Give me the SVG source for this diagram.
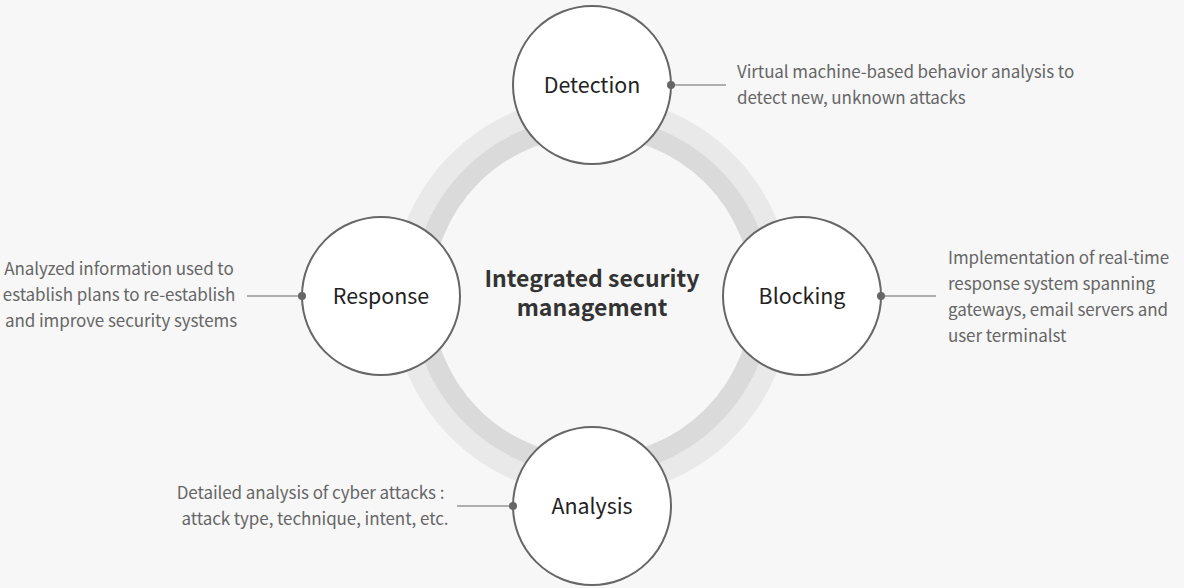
<svg xmlns="http://www.w3.org/2000/svg" width="1184" height="588" viewBox="0 0 1184 588">
<style>
.node circle{fill:#ffffff;stroke:#666666;stroke-width:2}
.label{font-family:"Noto Sans CJK KR","Noto Sans",sans-serif;font-size:21.4px;fill:#222222;text-anchor:middle}
.desc{font-family:"Noto Sans CJK KR","Noto Sans",sans-serif;font-size:17px;letter-spacing:-0.08px;fill:#666666}
.title{font-family:"Noto Sans CJK KR","Noto Sans",sans-serif;font-size:23px;font-weight:bold;fill:#333333;text-anchor:middle}
.conn line{stroke:#666666;stroke-width:1}
.conn circle{fill:#666666}
</style>
<rect width="1184" height="588" fill="#f7f7f7"/>
<g id="ring">
<circle cx="592" cy="296" r="190" fill="none" stroke="#e9e9e9" stroke-width="20"/>
<circle cx="592" cy="296" r="170" fill="none" stroke="#dadada" stroke-width="20"/>
</g>
<g id="center">
<text class="title" x="592" y="287">Integrated security</text>
<text class="title" x="592" y="316">management</text>
</g>
<g id="node-detection" class="node">
<circle cx="592" cy="85" r="79"/>
<text class="label" x="592" y="93">Detection</text>
</g>
<g id="node-blocking" class="node">
<circle cx="802" cy="296" r="79"/>
<text class="label" x="802" y="304">Blocking</text>
</g>
<g id="node-analysis" class="node">
<circle cx="592" cy="506" r="79"/>
<text class="label" x="592" y="514">Analysis</text>
</g>
<g id="node-response" class="node">
<circle cx="381" cy="296" r="79"/>
<text class="label" x="381" y="304">Response</text>
</g>
<g id="connectors" class="conn">
<line x1="671" y1="85" x2="726" y2="85"/>
<circle cx="671" cy="85" r="4"/>
<line x1="881" y1="296" x2="936" y2="296"/>
<circle cx="881" cy="296" r="4"/>
<line x1="457" y1="506" x2="513" y2="506"/>
<circle cx="513" cy="506" r="4"/>
<line x1="247" y1="296" x2="302" y2="296"/>
<circle cx="302" cy="296" r="4"/>
</g>
<g id="desc-detection">
<text class="desc" x="737" y="78">Virtual machine-based behavior analysis to</text>
<text class="desc" x="737" y="104">detect new, unknown attacks</text>
</g>
<g id="desc-blocking">
<text class="desc" x="948" y="264">Implementation of real-time</text>
<text class="desc" x="948" y="290">response system spanning</text>
<text class="desc" x="948" y="316">gateways, email servers and</text>
<text class="desc" x="948" y="342">user terminalst</text>
</g>
<g id="desc-analysis">
<text class="desc" x="310.5" y="499" text-anchor="middle">Detailed analysis of cyber attacks :</text>
<text class="desc" x="315" y="525" text-anchor="middle">attack type, technique, intent, etc.</text>
</g>
<g id="desc-response">
<text class="desc" x="119" y="275" text-anchor="middle">Analyzed information used to</text>
<text class="desc" x="119" y="301" text-anchor="middle">establish plans to re-establish</text>
<text class="desc" x="121" y="327" text-anchor="middle">and improve security systems</text>
</g>
</svg>
